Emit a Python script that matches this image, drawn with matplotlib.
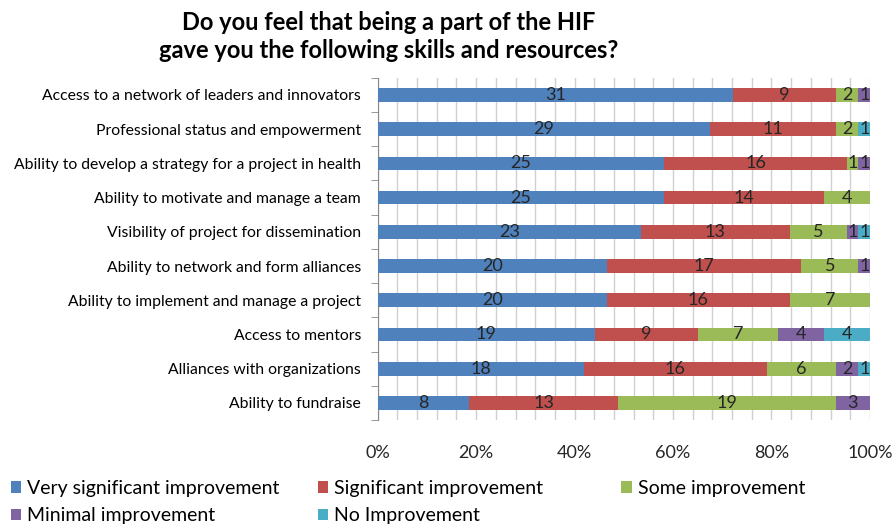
import numpy as np
import matplotlib.pyplot as plt
from matplotlib.ticker import MultipleLocator, FuncFormatter

plt.rcParams['font.family'] = ['Lato', 'DejaVu Sans']

categories = [
    "Access to a network of leaders and innovators",
    "Professional status and empowerment",
    "Ability to develop a strategy for a project in health",
    "Ability to motivate and manage a team",
    "Visibility of project for dissemination",
    "Ability to network and form alliances",
    "Ability to implement and manage a project",
    "Access to mentors",
    "Alliances with organizations",
    "Ability to fundraise",
]
series_names = ["Very significant improvement", "Significant improvement",
                "Some improvement", "Minimal improvement", "No Improvement"]
very_sig = [31, 29, 25, 25, 23, 20, 20, 19, 18, 8]
sig = [9, 11, 16, 14, 13, 17, 16, 9, 16, 13]
some = [2, 2, 1, 4, 5, 5, 7, 7, 6, 19]
minimal = [1, 0, 1, 0, 1, 1, 0, 4, 2, 3]
no_imp = [0, 1, 0, 0, 1, 0, 0, 4, 1, 0]
colors = ["#4F81BD", "#C0504D", "#9BBB59", "#8064A2", "#4BACC6"]

data = np.array([very_sig, sig, some, minimal, no_imp], dtype=float)
totals = data.sum(axis=0)
pct = data / totals

fig = plt.figure(figsize=(8.95, 5.26), dpi=100)
ax = fig.add_axes([0.422, 0.2015, 0.55, 0.6505])

y = np.arange(len(categories))
left = np.zeros(len(categories))
bars = []
for k in range(5):
    b = ax.barh(y, pct[k], left=left, height=0.4, color=colors[k], label=series_names[k], zorder=3)
    bars.append(b)
    for i in range(len(categories)):
        if data[k, i] > 0:
            ax.text(left[i] + pct[k, i] / 2, y[i], f"{int(data[k, i])}", ha='center', va='center',
                    fontsize=13, color='#262626', zorder=4)
    left += pct[k]

ax.set_xlim(0, 1)
ax.set_ylim(len(categories) - 0.5, -0.5)
ax.xaxis.set_major_locator(MultipleLocator(0.2))
ax.xaxis.set_minor_locator(MultipleLocator(0.04))
ax.xaxis.set_major_formatter(FuncFormatter(lambda v, p: f"{v * 100:.0f}%"))
ax.grid(axis='x', which='both', color='#D0D0D0', linewidth=1, zorder=0)
ax.tick_params(axis='x', which='both', length=0, labelsize=13, pad=18, colors='#262626')

ax.set_yticks(y)
ax.set_yticklabels(categories, fontsize=11.3)
ax.set_yticks(np.arange(-0.5, len(categories)), minor=True)
ax.tick_params(axis='y', which='major', length=0, pad=12, colors='black')
ax.tick_params(axis='y', which='minor', length=5, color='#888888')

for s in ['top', 'right', 'bottom']:
    ax.spines[s].set_visible(False)
ax.spines['left'].set_color('#888888')

fig.suptitle("Do you feel that being a part of the HIF\ngave you the following skills and resources?",
             x=0.434, y=0.98, fontsize=17, fontweight='bold', linespacing=1.3)

# legend laid out row-wise in three columns, like the original
columns = [[0, 3], [1, 4], [2]]
col_x = [0.012, 0.355, 0.694]
for cx, idx in zip(col_x, columns):
    leg = fig.legend([bars[j] for j in idx], [series_names[j] for j in idx],
                     loc='upper left', bbox_to_anchor=(cx, 0.088), frameon=False, fontsize=14,
                     handlelength=0.55, handleheight=0.55, handletextpad=0.3,
                     labelspacing=0.55, borderaxespad=0, borderpad=0)

fig.savefig("out.png", dpi=100)
